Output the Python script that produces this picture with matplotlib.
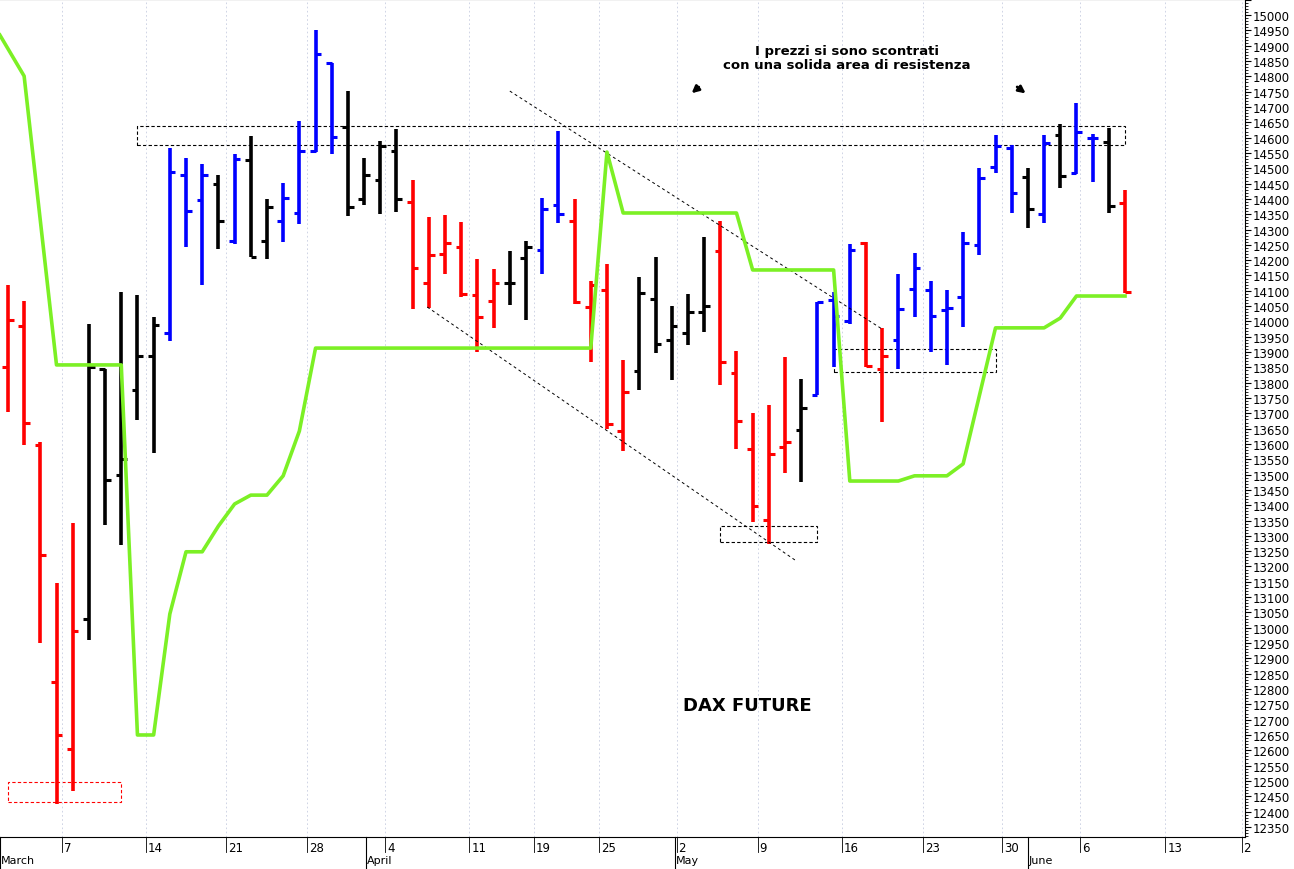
import numpy as np
import matplotlib.pyplot as plt
from matplotlib.patches import Rectangle
from matplotlib.ticker import MultipleLocator, FuncFormatter
import matplotlib.transforms as mtransforms

# --- OHLC bars (one per trading day) ---
highs = [14120, 14067, 13606, 13146, 13342, 13992, 13845, 14096, 14086, 14014,
         14566, 14533, 14514, 14478, 14546, 14605, 14400, 14452, 14654, 14951,
         14843, 14752, 14533, 14589, 14628, 14461, 14341, 14347, 14324, 14204,
         14171, 14230, 14262, 14403, 14621, 14400, 14132, 14187, 13874, 14145,
         14210, 14050, 14089, 14275, 14328, 13903, 13701, 13727, 13884, 13812,
         14063, 14096, 14253, 14259, 13978, 14155, 14223, 14132, 14102, 14292,
         14501, 14608, 14576, 14501, 14608, 14644, 14713, 14612, 14631, 14429]
lows = [13704, 13597, 12950, 12425, 12468, 12960, 13336, 13270, 13678, 13571,
        13936, 14243, 14119, 14236, 14253, 14210, 14204, 14259, 14318, 14553,
        14546, 14344, 14380, 14350, 14357, 14040, 14044, 14155, 14080, 13900,
        13978, 14054, 14005, 14155, 14321, 14057, 13868, 13649, 13577, 13776,
        13897, 13809, 13923, 13965, 13792, 13584, 13345, 13274, 13505, 13476,
        13760, 13851, 13992, 13851, 13672, 13845, 14014, 13900, 13858, 13982,
        14217, 14484, 14354, 14305, 14321, 14435, 14481, 14455, 14354, 14093]
opens = [13851, 13985, 13597, 12823, 12605, 13029, 13845, 13499, 13776, 13887,
         13962, 14478, 14396, 14449, 14262, 14527, 14262, 14328, 14354, 14556,
         14843, 14634, 14400, 14461, 14556, 14390, 14125, 14220, 14243, 14086,
         14067, 14125, 14207, 14233, 14380, 14328, 14047, 14102, 13642, 13838,
         14073, 13939, 13962, 14031, 14230, 13832, 13584, 13352, 13590, 13646,
         13760, 14070, 14001, 14256, 13845, 13939, 14106, 14102, 14037, 14080,
         14249, 14504, 14566, 14471, 14350, 14608, 14484, 14599, 14586, 14386]
closes = [14005, 13668, 13238, 12650, 12990, 13851, 13482, 13551, 13887, 13988,
          14488, 14360, 14478, 14328, 14530, 14210, 14373, 14403, 14556, 14873,
          14602, 14373, 14478, 14572, 14400, 14174, 14217, 14256, 14089, 14014,
          14125, 14125, 14243, 14367, 14350, 14063, 14119, 13665, 13770, 14093,
          13926, 13985, 14031, 14050, 13868, 13675, 13398, 13567, 13606, 13717,
          14063, 14018, 14233, 13854, 13887, 14040, 14174, 14018, 14044, 14256,
          14468, 14572, 14419, 14367, 14582, 14475, 14618, 14599, 14377, 14096]
bar_colors = (['red'] * 5 + ['black'] * 5 + ['blue'] * 3 + ['black', 'blue', 'black', 'black']
              + ['blue'] * 4 + ['black'] * 4 + ['red'] * 6 + ['black'] * 2 + ['blue'] * 2
              + ['red'] * 4 + ['black'] * 5 + ['red'] * 5 + ['black'] + ['blue'] * 3
              + ['red'] * 2 + ['blue'] * 8 + ['black', 'blue', 'black', 'blue', 'blue', 'black', 'red'])

# --- green indicator line (bar index, price) ---
green_x = [-0.5, 1, 3, 7, 8, 9, 10, 11, 12, 13, 14, 15, 16, 17, 18, 19, 36, 37, 38, 45, 46,
           51, 52, 55, 56, 58, 59, 61, 64, 65, 66, 69]
green_y = [14935, 14801, 13858, 13858, 12650, 12650, 13045, 13248, 13248, 13332, 13404,
           13433, 13433, 13496, 13642, 13913, 13913, 14553, 14354, 14354, 14168,
           14168, 13479, 13479, 13496, 13496, 13535, 13979, 13979, 14011, 14083, 14083]

# --- axis labels ---
tick_pos = [3.34, 8.5, 13.5, 18.5, 23.3, 28.5, 32.5, 36.5, 41.3, 46.3, 51.5, 56.5, 61.4,
            66.2, 71.5, 76.2]
tick_labels = ['7', '14', '21', '28', '4', '11', '19', '25', '2', '9', '16', '23', '30',
               '6', '13', '2']
month_pos = [-0.5, 22.1, 41.2, 63.0]
month_labels = ['March', 'April', 'May', 'June']

fig = plt.figure(figsize=(12.94, 8.7), dpi=100)
ax = fig.add_axes([0.0, 0.0368, 0.962, 0.963])

n = len(highs)
for i in range(n):
    c = bar_colors[i]
    ax.vlines(i, lows[i], highs[i], color=c, lw=2.6)
    ax.hlines(opens[i], i - 0.35, i, color=c, lw=2.2)
    ax.hlines(closes[i], i, i + 0.35, color=c, lw=2.2)

ax.plot(green_x, green_y, color='#7cf025', lw=2.6, zorder=3)

# annotation boxes and trend lines
ax.add_patch(Rectangle((8, 14575), 61, 63, fill=False, ls=(0, (3, 2)), lw=0.8, ec='black'))
ax.add_patch(Rectangle((0, 12432), 7, 65, fill=False, ls=(0, (3, 2)), lw=0.8, ec='red'))
ax.add_patch(Rectangle((44, 13280), 6, 52, fill=False, ls=(0, (3, 2)), lw=0.8, ec='black'))
ax.add_patch(Rectangle((51, 13835), 10, 75, fill=False, ls=(0, (3, 2)), lw=0.8, ec='black'))
ax.plot([31.0, 54.0], [14752, 13975], color='black', ls=(0, (3, 3)), lw=0.7)
ax.plot([25.9, 48.7], [14047, 13218], color='black', ls=(0, (3, 3)), lw=0.7)

ax.text(51.8, 14860, 'I prezzi si sono scontrati\ncon una solida area di resistenza',
        ha='center', va='center', fontsize=9.5, fontweight='bold', linespacing=1.1)
ax.text(45.7, 12748, 'DAX FUTURE', ha='center', va='center', fontsize=13, fontweight='bold')
ax.annotate('', xy=(42.1, 14739), xytext=(42.8, 14771),
            arrowprops=dict(arrowstyle='-|>', color='black', lw=2, mutation_scale=10))
ax.annotate('', xy=(63.0, 14739), xytext=(62.2, 14771),
            arrowprops=dict(arrowstyle='-|>', color='black', lw=2, mutation_scale=10))

ax.set_xlim(-0.49, 76.4)
ax.set_ylim(12317, 15052)
ax.yaxis.tick_right()
ax.yaxis.set_major_locator(MultipleLocator(50))
ax.yaxis.set_minor_locator(MultipleLocator(10))
ax.yaxis.set_major_formatter(FuncFormatter(lambda v, p: '' if v > 15000 else f'{v:.0f}'))
ax.tick_params(axis='y', labelsize=8.5, length=4, pad=2)
ax.tick_params(axis='y', which='minor', length=2)
ax.set_xticks(tick_pos)
ax.set_xticklabels(tick_labels, fontsize=8.5, ha='left')
ax.tick_params(axis='x', length=0, pad=3)
ax.grid(axis='x', color='#c8cde0', ls=(0, (2, 3)), lw=0.6)
ax.spines['left'].set_visible(False)

trans = mtransforms.blended_transform_factory(ax.transData, ax.transAxes)
for p, lab in zip(month_pos, month_labels):
    ax.text(p + 0.05, -0.021, lab, transform=trans, fontsize=8, ha='left', va='top',
            clip_on=False)
    ax.plot([p, p], [0, -0.04], transform=trans, color='black', lw=0.8, clip_on=False)
for p in tick_pos:
    ax.plot([p, p], [0, -0.018], transform=trans, color='black', lw=0.6, clip_on=False)
for t in ax.get_xticklabels():
    t.set_transform(t.get_transform() + mtransforms.ScaledTranslation(0.02, 0, fig.dpi_scale_trans))

fig.savefig('out.png', dpi=100)
